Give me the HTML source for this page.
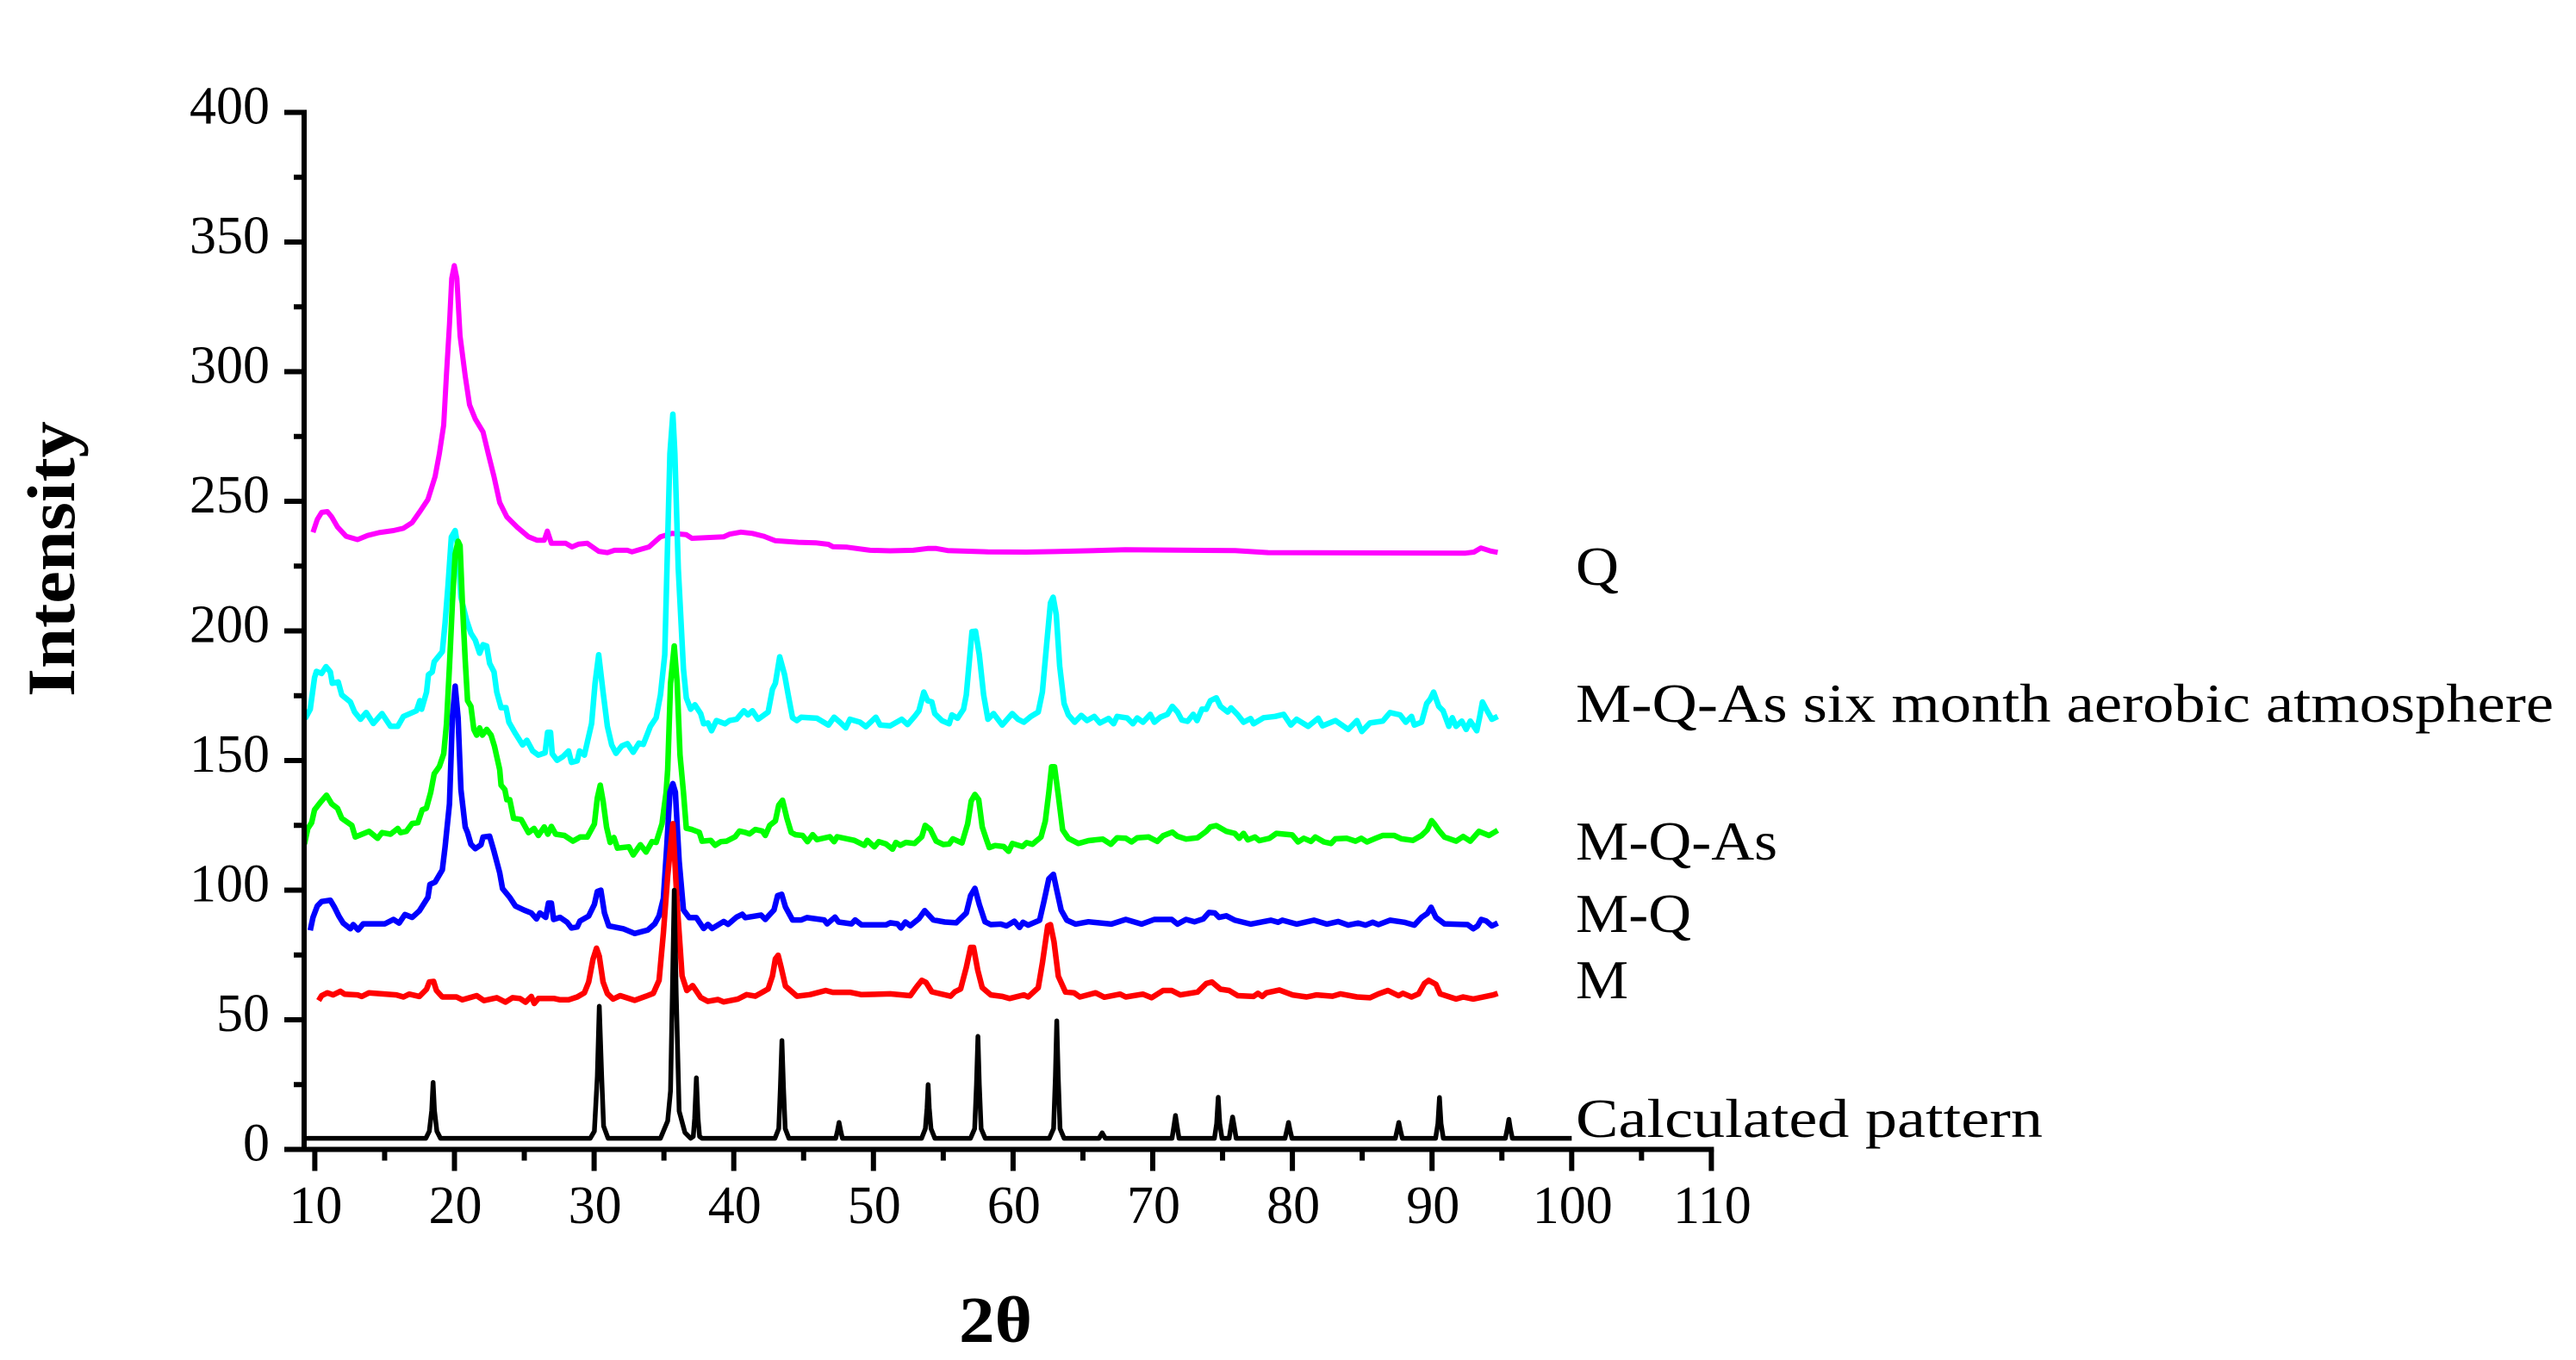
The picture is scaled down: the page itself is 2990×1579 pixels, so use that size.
<!DOCTYPE html>
<html lang="en">
<head>
<meta charset="utf-8">
<title>XRD patterns</title>
<style>
html,body{margin:0;padding:0;background:#fff;width:2990px;height:1579px;overflow:hidden}
svg{display:block}
text{font-family:"Liberation Serif",serif;fill:#000}
</style>
</head>
<body>
<svg id="chart" xmlns="http://www.w3.org/2000/svg" width="2990" height="1579" viewBox="0 0 2990 1579">
<rect x="0" y="0" width="2990" height="1579" fill="#fff"/>
<g id="series-layer"></g>
<g id="axis-layer"></g>
<text transform="translate(86,809) rotate(-90)" font-size="78" font-weight="700" textLength="320" lengthAdjust="spacingAndGlyphs">Intensity</text>
<text x="1113" y="1558" font-size="76" font-weight="700" textLength="85" lengthAdjust="spacingAndGlyphs">2θ</text>
<text x="1829" y="679" font-size="64" textLength="50" lengthAdjust="spacingAndGlyphs">Q</text>
<text x="1829" y="838" font-size="64" textLength="1135" lengthAdjust="spacingAndGlyphs">M-Q-As six month aerobic atmosphere</text>
<text x="1829" y="998" font-size="64" textLength="234" lengthAdjust="spacingAndGlyphs">M-Q-As</text>
<text x="1829" y="1082" font-size="64" textLength="134" lengthAdjust="spacingAndGlyphs">M-Q</text>
<text x="1829" y="1159" font-size="64" textLength="61" lengthAdjust="spacingAndGlyphs">M</text>
<text x="1829" y="1320" font-size="64" textLength="542" lengthAdjust="spacingAndGlyphs">Calculated pattern</text>
</svg>
<script>
const xMajorTicks = [10,20,30,40,50,60,70,80,90,100,110];
const xMinorTicks = [15,25,35,45,55,65,75,85,95,105];
const yMajorTicks = [0,50,100,150,200,250,300,350,400];
const yMinorTicks = [25,75,125,175,225,275,325,375];

const qTheta = [9.87,10.18,10.49,10.9,11.21,11.62,12.24,13.06,13.78,14.6,15.63,16.35,16.97,17.48,18.1,18.61,18.92,19.23,19.43,19.64,19.8,19.99,20.17,20.4,20.77,21.08,21.49,22.05,22.42,22.83,23.24,23.75,24.47,25.3,25.91,26.43,26.65,26.94,27.97,28.42,28.89,29.51,30.33,30.95,31.46,32.39,32.7,33.93,34.75,35.58,36.6,37,37.84,39.28,39.69,40.51,41.33,42.15,42.98,44.62,45.86,46.78,47.09,48.12,49.76,51.2,52.85,53.88,54.49,55.32,58.2,60.95,63,68.03,75.9,78.26,92.4,93,93.5,94.2,94.7];
const qIntensity = [238,243,245.7,246,244,240.1,236.5,235.2,236.8,237.9,238.7,239.6,241.8,245.7,250.7,259.5,268.4,279.4,299.4,318.2,335.9,340.9,335.9,313.8,298.3,287.2,281.7,276.7,268.4,259.5,249.5,244,240.1,236.3,235,235,238.5,233.8,233.8,232.4,233.5,233.8,230.7,230.2,231.1,231.1,230.5,232.4,236.3,237.6,237.1,235.7,235.9,236.3,237.3,238.1,237.6,236.5,234.8,234.2,234,233.4,232.5,232.3,231.1,230.9,231.1,231.8,231.8,231,230.5,230.4,230.6,231.3,231,230.2,230,230.4,232,230.8,230.3];

const sixMonthTheta = [9.3,9.67,9.98,10.12,10.49,10.8,11.11,11.25,11.68,11.93,12.55,12.85,13.27,13.68,14.19,14.81,15.42,15.94,16.35,17.28,17.52,17.65,18,18.14,18.41,18.55,19.13,19.33,19.54,19.78,20.05,20.26,20.46,20.87,21.18,21.49,21.8,22.05,22.31,22.52,22.83,23.03,23.34,23.69,23.9,24.37,24.88,25.19,25.6,26.01,26.49,26.67,26.88,27,27.35,27.76,28.17,28.38,28.79,28.96,29.3,29.82,30.07,30.33,30.64,30.95,31.26,31.57,31.98,32.39,32.8,33.21,33.52,34.03,34.44,34.75,35.06,35.27,35.43,35.64,35.78,36.03,36.4,36.6,36.91,37.22,37.63,37.84,38.15,38.41,38.76,39.38,39.69,40.2,40.72,41.02,41.33,41.74,42.46,42.77,42.98,43.29,43.64,43.9,44.21,44.52,44.83,45.96,46.78,47.19,47.6,48.02,48.32,49.04,49.46,50.17,50.48,51.2,52.03,52.44,52.95,53.26,53.61,53.88,54.18,54.39,54.9,55.42,55.62,56.03,56.45,56.65,57.06,57.31,57.58,57.89,58.2,58.6,59.22,59.94,60.35,60.77,61.28,61.8,62.1,62.41,62.68,62.87,63.09,63.34,63.65,63.96,64.41,64.88,65.29,65.81,66.22,66.84,67.2,67.45,68.17,68.58,68.89,69.3,69.82,70.12,70.54,71.05,71.4,71.77,72.08,72.49,72.9,73.17,73.52,73.83,74.13,74.55,74.85,75.37,75.61,76.09,76.5,77.01,77.22,77.94,78.76,79.38,79.89,80.3,81.13,81.85,82.15,83.08,84,84.62,84.97,85.55,86.47,86.99,87.71,88.12,88.53,88.73,89.25,89.62,89.87,90.11,90.48,90.79,91.2,91.45,91.72,92.13,92.44,92.74,93.2,93.4,93.61,93.88,94.29,94.7];
const sixMonthIntensity = [166.1,169.8,182,184.4,183.6,186.2,184.2,179.8,180.3,175.3,172.6,168.7,165.9,168.5,164.3,168.1,163.2,163.2,167,169.2,173.1,169.8,176.4,183.1,184.2,188.1,192,203,217.4,236.2,238.7,231.8,213,204.1,199.1,196.4,191.4,194.7,194.2,187.5,184.2,176.4,170.4,170.4,164.8,160.4,156,157.8,153.7,152.1,153,160.9,160.9,152.6,150.1,151.5,153.7,149.3,149.9,153.7,152.1,164.3,179.8,190.8,176.4,163.2,156,152.8,155.6,156.5,153.2,156.7,156.2,163.2,166.5,175.3,190.8,235.1,268.4,283.6,268.4,224,185.3,174.2,169.8,171.5,168.1,164.2,164.5,161.5,165.4,164.2,165.4,165.9,169.2,167.6,169.2,165.9,168.7,177.5,179.8,190,183.1,175.3,166.5,165.4,166.7,166.3,163.7,166.7,164.8,162.6,165.9,164.8,163.1,166.7,163.7,163.4,165.9,163.9,167,169.2,176.4,173.1,172.6,168.1,165.4,164.2,167.6,166.3,169.8,175.3,199.7,199.9,190.8,175.3,165.9,168.1,163.7,168.1,165.9,164.8,167,168.7,176.4,195.3,210.8,213,206.3,186.4,172,167.6,164.8,167.4,165.4,167,164.5,166.2,164.2,167,166.4,164.2,166.4,164.8,167.8,164.8,166.7,167.8,170.9,168.7,165.6,165.1,167.8,165.4,169.8,169.8,173.1,174.2,170.9,168.7,170.3,167.6,164.8,166.2,164.2,166.5,167,167.8,163.7,165.9,163.2,166.3,163.4,165.4,162,165.4,161.2,164.5,165.2,168.5,167.6,164.8,167,163.7,164.8,172,173.7,176.4,170.9,169.2,163.2,166.5,163.2,165.2,162,165.2,161.5,166.5,172.6,169.8,165.9,167];

const mqAsTheta = [9.26,9.5,9.77,9.98,10.39,10.84,11.21,11.62,11.93,12.65,12.9,13.88,14.5,14.81,15.42,15.94,16.14,16.56,16.97,17.38,17.69,17.99,18.3,18.55,18.92,19.23,19.43,19.64,19.85,20.05,20.26,20.4,20.57,20.77,20.94,21.18,21.39,21.59,21.8,22,22.31,22.62,22.87,23.24,23.34,23.61,23.75,23.96,24.23,24.78,25.3,25.7,26.01,26.43,26.69,26.94,27.25,27.87,28.48,29,29.51,30.02,30.23,30.44,30.64,30.89,31.15,31.42,31.67,32.49,32.8,33.31,33.72,34.14,34.44,34.86,35.16,35.27,35.47,35.74,35.95,36.15,36.4,36.6,37.01,37.53,37.73,38.35,38.66,39.07,39.48,40.1,40.41,40.82,41.13,41.54,42.05,42.26,42.57,42.98,43.22,43.49,43.8,44.11,44.42,44.93,45.28,45.65,45.96,46.88,47.19,47.4,48.63,49.35,49.56,50.07,50.38,50.9,51.37,51.61,51.92,52.33,52.95,53.46,53.71,54.08,54.49,55.01,55.42,55.69,56.34,56.75,57,57.27,57.54,57.79,58.1,58.3,58.71,59.33,59.68,59.95,60.67,60.97,61.39,62,62.31,62.56,62.76,62.97,63.24,63.55,63.96,64.68,65.4,66.42,67,67.45,68.07,68.48,68.89,69.71,70.33,70.74,71.4,71.77,72.39,73.21,73.83,74.13,74.55,75.27,75.88,76.19,76.5,76.81,77.32,77.63,78.35,78.86,79.99,80.41,80.82,81.33,81.64,82.26,82.77,83.08,83.9,84.52,84.93,85.34,85.96,86.47,87.29,87.81,88.63,89.25,89.66,89.97,90.17,90.48,90.89,91.72,92.23,92.74,93.36,94.08,94.7];
const mqAsIntensity = [117.8,123.8,126,131,133.8,136.6,133.3,131.6,127.7,125,120.5,122.7,120,122.2,121.6,123.8,122.2,122.7,125.7,126,131,131.6,137.7,144.9,147.7,152.6,164.3,186.4,210.8,229.6,234.6,232.9,210.8,188.6,173.1,170.9,162,159.8,162.6,159.8,162,159.8,155.4,146.5,140.5,138.8,134.9,134.9,127.7,127.2,122.2,123.8,121.1,124.4,121.6,124.6,121.6,121.1,118.9,120.5,120.5,125.5,135.5,140.5,134.4,124.4,118.4,120.3,116.2,116.7,113.6,117.5,114.7,118.7,118.4,125.6,137.8,146.5,179.8,194.2,179.8,152.1,137.7,123.9,123.4,122.3,118.9,119.2,117.3,118.7,118.9,120.6,122.8,122.3,121.7,123.4,122.8,121.1,125,126.7,132.8,134.7,127.8,122.3,121.4,121.1,118.7,121.4,119.5,120.6,118.7,120.6,119.2,117.3,119.2,116.7,118.7,117.8,115.8,118.4,117.3,118.4,118,120.6,125,123.4,118.9,117.6,117.8,119.8,118.2,125.6,134.4,136.9,134.9,124.4,119.4,116.4,117.2,116.8,115,118,116.8,118.3,117.7,120.5,126.6,137.7,147.6,147.6,136.6,123.3,120,118,119.1,119.7,117.7,120.2,120,118.6,120.2,120.5,118.8,121,122.4,120.8,119.7,120.2,122.7,124.4,124.9,122.7,121.9,120,121.9,119.4,120.5,119.1,120,121.9,121.3,118.6,120,118.8,120.5,118.6,118,119.8,120,118.9,120,118.6,120,121.1,121.1,119.8,119.2,121.1,123.3,126.8,125.5,123.1,120.5,118.9,120.7,118.9,122.7,121.1,123.1];

const mqTheta = [9.67,9.87,10.18,10.49,11.11,11.41,11.72,12.03,12.55,12.75,13.1,13.47,15.01,15.63,16.04,16.45,16.97,17.48,18.1,18.24,18.61,19.13,19.33,19.64,19.85,20.05,20.26,20.46,20.77,20.94,21.18,21.49,21.9,22.05,22.52,22.83,23.24,23.44,23.96,24.37,24.99,25.5,25.87,26.12,26.53,26.73,26.94,27.1,27.56,28.07,28.38,28.79,28.99,29.61,30.02,30.23,30.48,30.74,31.05,32.08,32.9,33.83,34.34,34.65,34.96,35.2,35.43,35.64,35.82,36.09,36.4,36.81,37.32,37.84,38.15,38.45,39.28,39.59,40.2,40.61,40.82,41.95,42.26,42.88,43.14,43.43,43.7,44.21,44.83,45.24,46.47,46.68,47.25,47.5,48.43,48.69,49.15,50.9,51.2,51.72,51.97,52.29,52.64,53.26,53.67,54.29,55.11,55.93,56.65,56.96,57.27,57.58,57.99,58.4,59.12,59.53,60.09,60.46,60.71,61.08,61.9,62.21,62.56,62.89,63.13,63.44,63.85,64.47,65.4,67.04,68.07,69.2,70.12,71.36,71.77,72.39,73,73.62,74.03,74.44,74.75,75.27,75.88,77.01,78.45,78.97,79.28,80.3,81.54,82.46,83.28,84,84.72,85.24,85.75,86.16,86.99,88.01,88.73,89.25,89.66,89.93,90.28,90.89,92.54,92.95,93.26,93.52,93.88,94.29,94.7];
const mqIntensity = [84.5,89.5,93.9,95.6,96.1,93.4,90,87.3,85.1,86.7,84.7,87,87,88.7,87.3,90.6,89.5,92,97.2,102.2,103.1,107.8,116.6,133.3,166.5,178.7,166.5,138.8,124.4,122.2,117.7,116,117.5,120.5,120.8,115,106.7,100.6,97.2,93.9,92.3,91.2,88.9,91.2,89.5,95,95,88.7,89.5,87.6,85.4,85.8,88.1,90,94.5,99.5,100,91.2,86.2,85.1,83.3,84.6,87,90.1,96.8,116.7,137.8,141.1,137.8,111.2,92.4,89.4,89.4,85.2,86.8,85.2,87.9,86.8,89.6,90.7,89.4,90.4,88.7,92.4,97.9,98.4,93.5,88.5,88.5,89.4,88.5,87,89.6,87.7,87,88.5,86.6,86.6,87.4,87,85.4,87.7,86.3,89,92.1,88.5,87.7,87.4,91.2,97.9,100.7,94.5,87.8,86.7,86.9,86.2,88,85.6,87.6,86.5,88.4,95.6,104.4,106.1,100,92.3,88.4,86.9,87.8,86.9,88.7,86.9,88.7,88.7,86.9,88.7,87.8,88.9,91.4,91.2,89.5,90.1,88.4,86.9,88.4,87.6,88.4,86.9,88.4,86.9,87.9,86.5,87.3,86.5,87.6,86.7,88.4,87.6,86.5,89.5,91,93.4,89.5,87,86.7,85.1,86.2,88.7,88.1,86.2,87.3];

const mTheta = [10.28,10.49,10.9,11.31,11.83,12.13,13.06,13.37,13.88,14.6,15.84,16.35,16.76,17.48,18,18.2,18.51,18.71,19.13,20.15,20.57,21.59,22.11,23.03,23.65,24.16,24.68,25.09,25.5,25.71,26.01,27.15,27.56,28.17,28.79,29.3,29.61,29.92,30.17,30.37,30.64,30.95,31.36,31.87,32.9,33.72,34.24,34.65,34.96,35.27,35.64,35.95,36.3,36.64,37.06,37.63,38.15,38.87,39.28,40.3,40.92,41.54,42.46,42.77,42.98,43.18,43.39,43.7,44.52,45.45,46.58,47.09,48.32,49.15,51.2,52.64,53.05,53.46,53.77,54.18,55.52,55.83,56.24,56.65,56.96,57.17,57.47,57.79,58.4,59.23,59.74,60.77,61.08,61.8,62.11,62.48,62.68,62.93,63.24,63.75,64.37,64.78,65.91,66.53,67.66,68.07,69.3,69.92,70.74,71.36,71.98,73.21,73.83,74.24,74.85,75.47,76.09,77.22,77.53,77.84,78.14,79.07,80,81.02,81.74,82.87,83.45,84.62,85.55,86.16,86.84,87.6,87.91,88.53,89.04,89.45,89.76,90.28,90.58,91.72,92.23,92.95,94.39,94.7];
const mIntensity = [57.4,59.3,60.4,59.6,61,59.9,59.6,59,60.4,60.1,59.6,58.8,59.9,59,61.8,64.6,64.8,61.3,58.8,58.8,57.7,59.3,57.4,58.5,56.8,58.5,58.2,56.8,59,56.3,58.2,58.2,57.7,57.7,58.8,60.4,64.6,73.4,77.6,74.5,64.6,60.1,58,59.3,57.5,59.1,60.2,65.2,83.5,105.6,125.6,94.6,66.9,61.3,63.2,58.6,57.1,57.8,56.9,58,59.7,59.1,61.9,66.9,73.5,74.9,70.2,63,59.1,59.7,61.3,60.6,60.6,59.7,60,59.3,62.4,65.2,64.4,60.8,59.1,60.8,61.9,70.2,77.9,77.9,69.1,62.4,59.6,59,58.2,59.6,58.8,62.4,72.3,86.2,86.7,80.1,66.8,60.7,60.4,58.8,60.4,58.7,59.9,58.8,59.9,58.5,61.3,61.3,59.6,60.7,64,64.6,61.8,61.3,59.3,59,60.2,59,60.4,61.5,59.6,58.8,59.6,59.1,60,58.8,58.5,60,61.3,59.3,60.2,58.8,60,64,65.2,63.7,60,58,58.8,58,59.6,60.2];

const calcTheta = [9.2,17.95,18.2,18.37,18.47,18.57,18.74,19,29.72,30.02,30.23,30.37,30.54,30.68,31,34.75,35.27,35.47,35.6,35.74,35.88,36.09,36.5,36.91,37.1,37.2,37.32,37.44,37.55,37.73,42.95,43.22,43.34,43.45,43.56,43.68,43.95,47.3,47.42,47.54,47.66,47.78,53.45,53.72,53.84,53.92,54,54.12,54.4,56.95,57.25,57.38,57.48,57.58,57.71,58,62.6,62.9,63.03,63.13,63.23,63.36,63.65,66.15,66.38,66.61,71.38,71.52,71.63,71.74,71.88,74.42,74.58,74.69,74.8,74.96,75.47,75.61,75.72,75.83,75.97,79.47,79.61,79.72,79.83,79.97,87.37,87.51,87.62,87.73,87.87,90.25,90.42,90.53,90.64,90.81,95.25,95.39,95.5,95.61,95.75,100];
const calcIntensity = [4.3,4.3,7,15,25.8,15,7,4.3,4.3,7,28,55.2,28,9,4.3,4.3,11,22.6,60,100,60,14.8,6.5,4.3,5,12,27.6,12,5,4.3,4.3,8,24,42,24,8,4.3,4.3,7,10.4,7,4.3,4.3,8,16,25,16,8,4.3,4.3,8,25,43.6,25,8,4.3,4.3,8,28,49.6,28,8,4.3,4.3,6.4,4.3,4.3,9,13.1,9,4.3,4.3,10,20.1,10,4.3,4.3,9,12.5,9,4.3,4.3,7.5,10.4,7.5,4.3,4.3,7.5,10.4,7.5,4.3,4.3,10,20,10,4.3,4.3,8,11.6,8,4.3,4.3];

function xScale(v){ return 365.4 + (v - 10) * 16.21; }
function yScale(v){ return 1334.5 - v * 3.01; }

const NS = 'http://www.w3.org/2000/svg';
const seriesLayer = document.getElementById('series-layer');
const axisLayer = document.getElementById('axis-layer');

function drawSeries(thetas, values, color, name, width){
  const line = document.createElementNS(NS, 'polyline');
  
  
  line.setAttribute('points', thetas.map(function(t, i){ return xScale(t).toFixed(1) + ',' + yScale(values[i]).toFixed(1); }).join(' '));
  line.setAttribute('fill', 'none');
  line.setAttribute('stroke', color);
  line.setAttribute('stroke-width', width);
  line.setAttribute('stroke-linejoin', 'round');
  line.setAttribute('stroke-linecap', 'butt');
  seriesLayer.appendChild(line);
}
drawSeries(qTheta, qIntensity, '#ff00ff', 'series-q', 6);
drawSeries(sixMonthTheta, sixMonthIntensity, '#00ffff', 'series-m-q-as-six-month', 6.5);
drawSeries(mqAsTheta, mqAsIntensity, '#00ff00', 'series-m-q-as', 6.5);
drawSeries(mqTheta, mqIntensity, '#0000ff', 'series-m-q', 6.5);
drawSeries(mTheta, mIntensity, '#ff0000', 'series-m', 6.5);
drawSeries(calcTheta, calcIntensity, '#000000', 'series-calculated-pattern', 5.5);

function drawLine(x1, y1, x2, y2, name){
  const l = document.createElementNS(NS, 'line');
  
  
  l.setAttribute('x1', x1);
  l.setAttribute('y1', y1);
  l.setAttribute('x2', x2);
  l.setAttribute('y2', y2);
  l.setAttribute('stroke', '#000');
  l.setAttribute('stroke-width', 6);
  axisLayer.appendChild(l);
}
function drawLabel(x, y, anchor, label, name){
  const t = document.createElementNS(NS, 'text');
  
  
  t.setAttribute('x', x);
  t.setAttribute('y', y);
  t.setAttribute('text-anchor', anchor);
  t.setAttribute('font-size', 62);
  t.textContent = label;
  axisLayer.appendChild(t);
}
const spineX = 353;
drawLine(spineX, yScale(400) - 3, spineX, yScale(0) + 3, 'y-axis-line');
drawLine(spineX, yScale(0), xScale(110) + 3, yScale(0), 'x-axis-line');
yMajorTicks.forEach(function(v){
  drawLine(330, yScale(v), spineX, yScale(v), 'y-major-tick');
  drawLabel(313, yScale(v) + 13, 'end', String(v), 'y-tick-label');
});
yMinorTicks.forEach(function(v){
  drawLine(341, yScale(v), spineX, yScale(v), 'y-minor-tick');
});
xMajorTicks.forEach(function(v){
  drawLine(xScale(v), yScale(0), xScale(v), yScale(0) + 25, 'x-major-tick');
  drawLabel(xScale(v) + 1, 1420, 'middle', String(v), 'x-tick-label');
});
xMinorTicks.forEach(function(v){
  drawLine(xScale(v), yScale(0), xScale(v), yScale(0) + 13, 'x-minor-tick');
});
</script>
</body>
</html>
